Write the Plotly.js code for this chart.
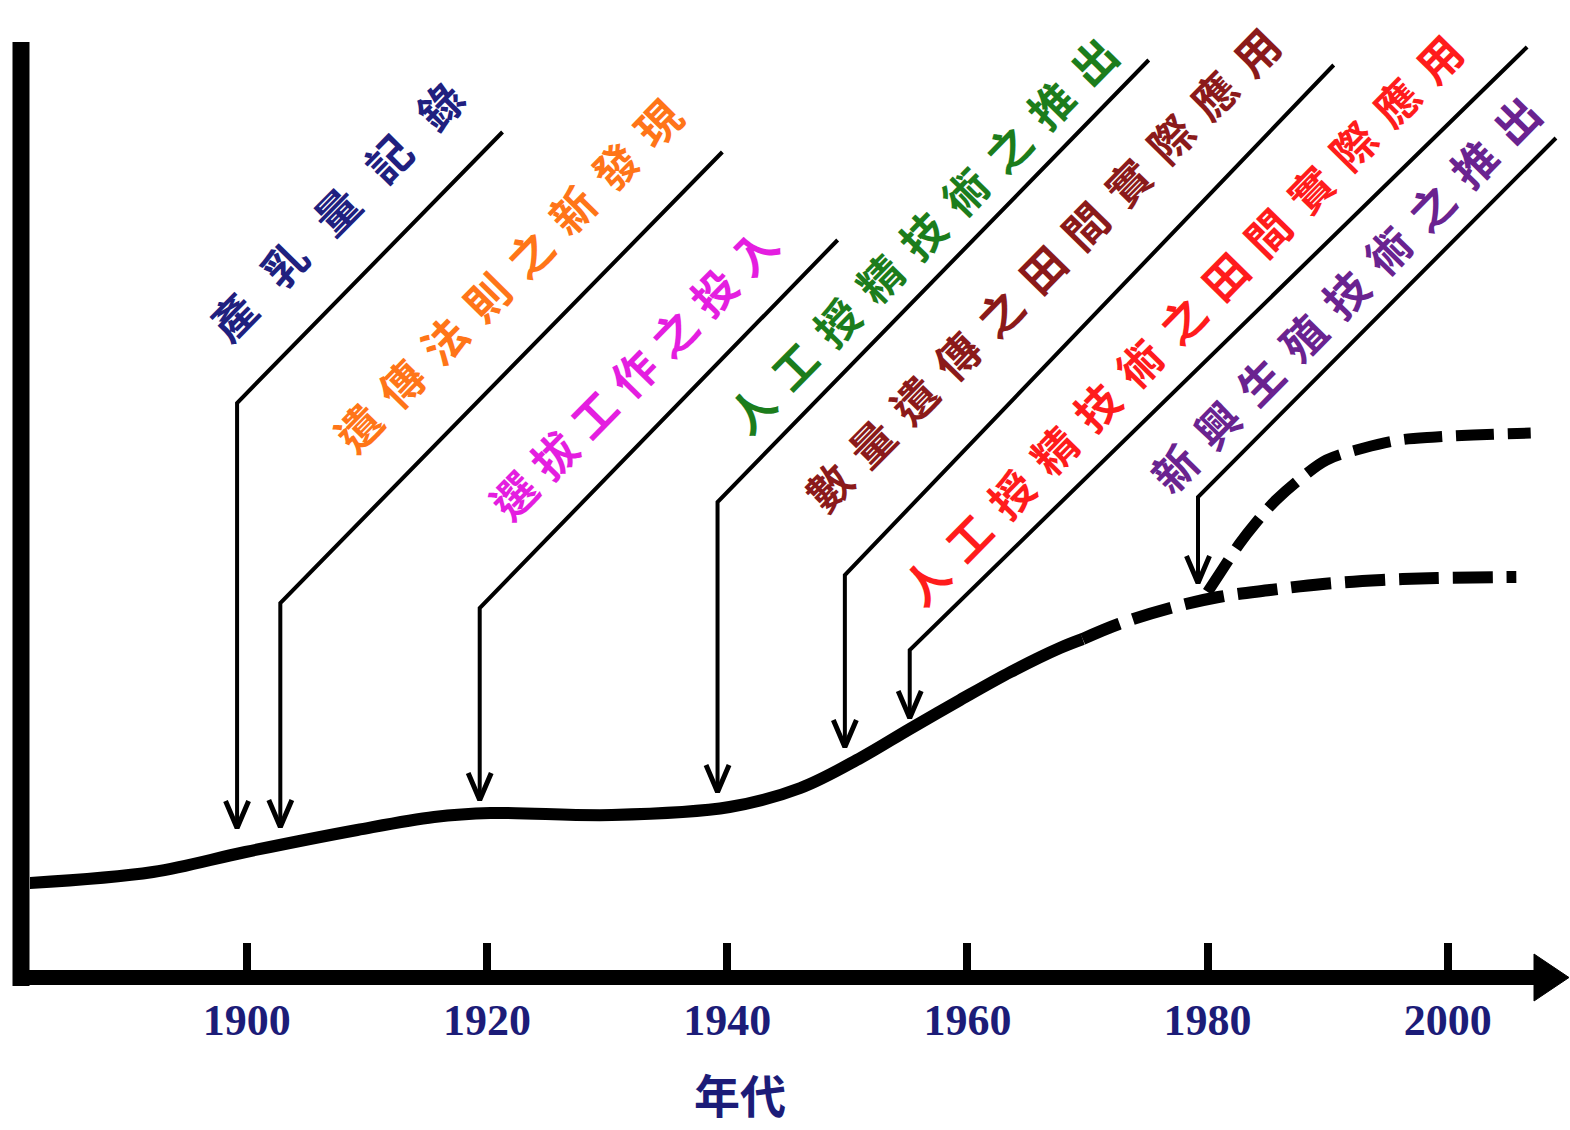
<!DOCTYPE html>
<html>
<head>
<meta charset="utf-8">
<script src="https://cdn.plot.ly/plotly-3.0.1.min.js"></script>
<style>
  html, body { margin: 0; padding: 0; background: #ffffff; }
  #chart { width: 1570px; height: 1130px; }
</style>
</head>
<body>
<div id="chart"></div>
<script>
// ---------------- DATA ----------------
// Milk-yield trend (relative units)
const curveYears = [1881.9, 1892.2, 1899.9, 1909.2, 1915.6, 1920.3, 1930.4, 1940.2, 1946.1, 1951.1, 1955.2, 1959.4, 1963.6, 1967.7, 1969.6];
const curveYield = [17.4, 19.6, 23.6, 28.0, 30.6, 31.4, 31.0, 32.6, 36.4, 42.4, 48.2, 54.0, 59.6, 64.4, 66.2];

// Projected trend (dashed, lower)
const projYears = [1969.6, 1972.6, 1976.9, 1980.9, 1985.2, 1989.6, 1994.5, 1999.1, 2005.7];
const projYield = [66.2, 69.2, 72.4, 74.6, 76.0, 77.2, 78.0, 78.4, 78.6];

// Projected trend with new reproductive technologies (dashed, upper)
const newTechYears = [1980.0, 1981.2, 1982.7, 1984.0, 1985.7, 1987.9, 1989.9, 1993.0, 1996.0, 1999.0, 2002.1, 2006.9];
const newTechYield = [75.6, 80.0, 85.4, 89.4, 94.0, 98.6, 102.0, 104.4, 106.0, 106.6, 107.0, 107.4];

// Milestones
const eventNames = ['產乳量記錄', '遺傳法則之新發現', '選拔工作之投入', '人工授精技術之推出',
                    '數量遺傳之田間實際應用', '人工授精技術之田間實際應用', '新興生殖技術之推出'];
const eventYears = [1899.2, 1902.8, 1919.4, 1939.2, 1949.8, 1955.2, 1979.2];

// Axis ticks
const tickYears = [1900, 1920, 1940, 1960, 1980, 2000];
const tickLabels = ['1900', '1920', '1940', '1960', '1980', '2000'];
const xTitle = '年代';

// ---------------- LAYOUT / STYLE ----------------
const eventColors = ['#20207f', '#ff7518', '#e41ee0', '#1c7d1c', '#8b1a1a', '#ff1c1c', '#6a2390'];
// leader geometry (in axis units): arrow tip, corner, diagonal end
const leaderTip    = [28.4, 28.6, 34.0, 35.6, 44.6, 50.4, 77.4];
const leaderCorner = [113.4, 73.4, 72.4, 93.6, 79.0, 64.0, 94.6];
const leaderEndV   = [167.6, 163.6, 146.0, 182.0, 181.0, 184.6, 166.4];
const leaderEndX   = [1921.3, 1939.6, 1949.2, 1975.1, 1990.5, 2006.6, 2009.0];
const labelX       = [1908.3, 1922.2, 1932.5, 1956.7, 1966.7, 1978.3, 1991.9];
const labelY       = [154.2, 140.4, 120.4, 148.4, 141.6, 131.4, 136.6];
const labelSpacing = [30, 17, 13, 17, 17, 17, 17];

const L = 30, R = 0, T = 0, B = 160, W = 1570, H = 1130;
const PW = W - L - R, PH = H - T - B;
const px2paperX = p => (p - L) / PW;
const py2paperY = p => (H - B - p) / PH;

// leader lines and arrow heads
const leadX = [], leadY = [], headX = [], headY = [];
const wingDX = 0.96, wingDY = 5.4;
for (let i = 0; i < eventYears.length; i++) {
  leadX.push(leaderEndX[i], eventYears[i], eventYears[i], null);
  leadY.push(leaderEndV[i], leaderCorner[i], leaderTip[i], null);
  headX.push(eventYears[i] - wingDX, eventYears[i], eventYears[i] + wingDX, null);
  headY.push(leaderTip[i] + wingDY, leaderTip[i], leaderTip[i] + wingDY, null);
}

const traces = [
  { x: curveYears, y: curveYield, mode: 'lines', line: { color: '#000', width: 12, shape: 'spline', smoothing: 1 }, name: '產乳量' },
  { x: projYears, y: projYield, mode: 'lines', line: { color: '#000', width: 12, shape: 'spline', dash: '40px,14px' }, name: '預測' },
  { x: newTechYears, y: newTechYield, mode: 'lines', line: { color: '#000', width: 11, shape: 'spline', dash: '38px,14px' }, name: '新興生殖技術' },
  { x: leadX, y: leadY, mode: 'lines', line: { color: '#000', width: 4 }, connectgaps: false, name: 'leader' },
  { x: headX, y: headY, mode: 'lines', line: { color: '#000', width: 5 }, connectgaps: false, name: 'head' }
];

const annotations = eventNames.map((name, i) => ({
  x: labelX[i], y: labelY[i], xref: 'x', yref: 'y',
  text: '<span style="letter-spacing:' + labelSpacing[i] + 'px">' + name + '</span>',
  showarrow: false, textangle: -45.5, xanchor: 'center', yanchor: 'middle',
  font: { family: '"Noto Sans CJK TC", "Noto Sans CJK SC", sans-serif', size: 44, color: eventColors[i], weight: 700 }
}));
// x-axis title (placed under the axis, left of centre as in the figure)
annotations.push({
  x: 1941.1, y: py2paperY(1093), xref: 'x', yref: 'paper', text: xTitle, showarrow: false,
  xanchor: 'center', yanchor: 'middle',
  font: { family: '"Noto Sans CJK TC", sans-serif', size: 46, color: '#1c1c78', weight: 700 }
});

const shapes = [
  // vertical axis
  { type: 'line', xref: 'paper', yref: 'paper', x0: px2paperX(21), x1: px2paperX(21), y0: py2paperY(986), y1: py2paperY(42),
    line: { color: '#000', width: 17 }, layer: 'above' },
  // horizontal axis
  { type: 'line', xref: 'paper', yref: 'paper', x0: px2paperX(13), x1: px2paperX(1538), y0: py2paperY(977.5), y1: py2paperY(977.5),
    line: { color: '#000', width: 15 }, layer: 'above' },
  // arrow head
  { type: 'path', xref: 'paper', yref: 'paper',
    path: 'M ' + px2paperX(1534) + ',' + py2paperY(954) + ' L ' + px2paperX(1569) + ',' + py2paperY(977.5) + ' L ' + px2paperX(1534) + ',' + py2paperY(1001) + ' Z',
    fillcolor: '#000', line: { color: '#000', width: 1 }, layer: 'above' }
];

const layout = {
  width: W, height: H,
  margin: { l: L, r: R, t: T, b: B, pad: 0 },
  paper_bgcolor: '#ffffff', plot_bgcolor: '#ffffff',
  showlegend: false, hovermode: false,
  xaxis: {
    range: [1881.96, 2010.17], showgrid: false, zeroline: false, showline: false,
    tickmode: 'array', tickvals: tickYears, ticktext: tickLabels,
    ticks: 'inside', ticklen: 27, tickwidth: 8, tickcolor: '#000',
    ticklabelstandoff: 20,
    tickfont: { family: '"Liberation Serif", "Times New Roman", serif', size: 44, color: '#1c1c78', weight: 700 },
    fixedrange: true
  },
  yaxis: { range: [0, 194], visible: false, showgrid: false, zeroline: false, fixedrange: true },
  annotations: annotations,
  shapes: shapes
};

Plotly.newPlot('chart', traces, layout, { staticPlot: true, displayModeBar: false });
</script>
</body>
</html>
